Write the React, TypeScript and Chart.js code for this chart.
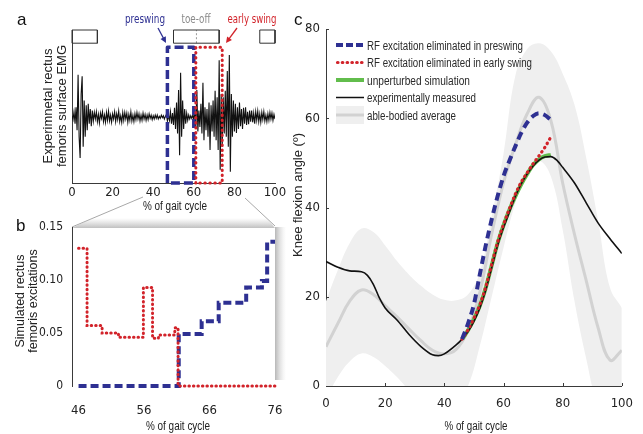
import React, { useEffect, useRef } from "react";
import { Chart, registerables } from "chart.js";
Chart.register(...registerables);

const W = 643;
const H = 434;
const NARROW = '"Liberation Sans Narrow", "DejaVu Sans Condensed", "Arial Narrow", sans-serif';
const SANS = '"Liberation Sans", Arial, sans-serif';
const BLUE = "#2e3092";
const RED = "#d2232a";
const GREEN = "#62bd4c";
const INK = "#222222";
const AXIS = "#3a3a3a";

// ---------- Panel a: experimental EMG ----------
const EMG_STEP = 0.5;
const EMG_VALUES = [
  0.02, -0.04, 0.08, -0.1, 0.15, -0.2, 0.64, -0.3, -0.62, 0.35,
  0.62, -0.45, 0.25, -0.3, 0.18, -0.2, 0.2, -0.1, 0.12, -0.14,
  0.1,
  -0.06, 0.07, -0.03, 0.08, -0.07, 0.04, -0.09, 0.06, -0.02, 0.08,
  -0.07, 0.03, -0.08, 0.07, -0.05, 0.09, -0.06, 0.03, -0.08, 0.05,
  -0.03, 0.08, -0.07, 0.05, -0.04, 0.09, -0.07, 0.02, -0.08, 0.07,
  -0.05, 0.07, -0.03, 0.06, -0.08, 0.04, -0.05, 0.08, -0.06, 0.03,
  -0.07, 0.05, -0.04, 0.07, -0.03, 0.05, -0.06, 0.03, -0.05, 0.06,
  -0.03, 0.04, -0.05, 0.03, -0.04, 0.05, -0.02, 0.03, -0.04, 0.02,
  -0.03, 0.03, -0.02, 0.03, -0.03, 0.01, -0.02, 0.03, -0.01, 0.02,
  -0.03, 0.01,
  0.04, -0.06, 0.03, -0.05, 0.08, -0.1, 0.06, -0.12, 0.14, -0.18,
  0.22, -0.25, 0.41, -0.58, 0.67, -0.3, 0.25, -0.18, 0.12, -0.1,
  0.06, -0.05, 0.03, -0.03, 0.02, -0.02, 0.03, -0.04,
  0.12, -0.18, 0.41, -0.22, 0.1, -0.15, 0.2, -0.25, 0.52, -0.35,
  0.15, -0.2, 0.12, -0.3, 0.22, -0.5, 0.18, -0.22, 0.25, -0.3,
  0.4, -0.35, 0.3, -0.5, 0.86, -0.8, 0.35, -0.45, 0.3, -0.25,
  0.4, -0.3, 0.7, -0.45, 0.94, -0.83, 0.35, -0.3, 0.25, -0.22,
  0.2, -0.24, 0.15, -0.18, 0.22, -0.14, 0.12, -0.18, 0.14, -0.1,
  0.15, -0.12, 0.08, -0.11, 0.1, -0.07, 0.1, -0.08, 0.06, -0.1,
  0.08, -0.05, 0.09, -0.07, 0.05, -0.08, 0.07, -0.04, 0.08, -0.06,
  0.03, -0.07, 0.05, -0.05, 0.07, -0.03, 0.06, -0.05, 0.04, -0.03,
];
const PRESWING = [47, 60];
const EARLY_SWING = [61, 74];
const WINDOW_Y = [-1, 1.06];
const GAIT_BARS = [
  [0, 12.5],
  [50, 72.5],
  [92.5, 100],
];
const GAIT_BAR_Y = [1.12, 1.32];
const TOE_OFF = 61.3;
const A_X_TICKS = [0, 20, 40, 60, 80, 100];

// ---------- Panel b: simulated excitations ----------
const B_RED_X = [46, 47.3, 49.6, 52.1, 55.9, 57.3, 58.2, 60.7, 61.2, 76];
const B_RED_Y = [0.13, 0.057, 0.05, 0.046, 0.093, 0.045, 0.048, 0.055, 0, 0];
const B_BLUE_X = [46, 61.3, 64.8, 67.4, 71.6, 74.0, 74.8, 76];
const B_BLUE_Y = [0, 0.049, 0.061, 0.0785, 0.093, 0.099, 0.136, 0.136];
const B_X_TICKS = [46, 56, 66, 76];
const B_Y_TICKS = [0, 0.05, 0.1, 0.15];
const B_Y_LABELS = ["0", "0.05", "0.10", "0.15"];

// ---------- Panel c: knee flexion ----------
const ABLE_X = [0, 4, 8, 12, 16, 20, 24, 28, 32, 36, 40, 44, 48, 52, 56, 60, 64, 68, 72, 76, 80, 84, 88, 92, 96, 100];
const ABLE_MEAN = [8.8, 14, 19, 21.5, 20.5, 18, 15.5, 12.8, 10.2, 8, 7.2, 8.2, 12.5, 21, 34, 45.5, 54, 61, 64.7, 59.5, 45.5, 34, 23.5, 13, 5.8, 8];
const ABLE_UPPER = [19, 26, 32, 35.3, 34.5, 31.5, 28, 25, 22.5, 20.5, 19.3, 19.2, 20.5, 25.5, 38, 52, 69.5, 75.5, 76.8, 75, 70, 63, 51, 37, 22, 17.5];
const ABLE_LOWER = [-3, 2, 5.5, 7.3, 6.5, 4.5, 2, -1, -4, -6, -6, -4, 0, 9, 20, 31, 41, 48, 50.5, 47, 35, 19, 6, -5, -10, -8];
const EXP_X = [0, 4, 8, 12, 14, 16, 18, 20, 24, 28, 32, 36, 38, 40, 44, 46, 48, 50, 52, 54, 56, 58, 60, 62, 64, 66, 68, 70, 72, 74, 76, 78, 80, 84, 88, 92, 96, 100];
const EXP_Y = [27.9, 26.6, 25.8, 25.6, 24.8, 22.8, 19.8, 17.5, 14.8, 11.6, 8.9, 7, 6.8, 7.2, 9.2, 10.5, 12.2, 14.5, 17.5, 21.5, 26.5, 31.5, 35.5, 39, 42.5, 45.3, 47.5, 49.3, 50.6, 51.3, 51.4, 50.6, 49, 45.5, 41, 36.5, 33, 29.7];
const SIM_X = [46, 48, 50, 52, 54, 56, 58, 60, 62, 64, 66, 68, 70, 72, 74, 76];
const SIM_GREEN = [10.5, 12.5, 15, 18, 22, 27, 32, 36, 39.5, 42.5, 45.2, 47.5, 49.5, 50.8, 51.5, 51.8];
const SIM_RED = [10.5, 12.6, 15.2, 18.2, 22.2, 27.2, 32.2, 36.2, 39.7, 43, 45.7, 47.8, 49.8, 51.6, 53.5, 55.8];
const SIM_BLUE = [10.5, 14, 18.3, 25, 31.5, 37.3, 42.5, 47, 50.5, 53.7, 56.7, 59, 60.5, 61.1, 60.7, 59.6];
const C_X_TICKS = [0, 20, 40, 60, 80, 100];
const C_Y_TICKS = [0, 20, 40, 60, 80];
const LEGEND_LABELS = [
  "RF excitation eliminated in preswing",
  "RF excitation eliminated in early swing",
  "unperturbed simulation",
  "experimentally measured",
  "able-bodied average",
];

// ---------- helpers ----------
const pts = (xs: number[], ys: number[]) => xs.map((x, i) => ({ x, y: ys[i] }));
const rectPts = (x0: number, x1: number, y0: number, y1: number) => [
  { x: x0, y: y0 },
  { x: x0, y: y1 },
  { x: x1, y: y1 },
  { x: x1, y: y0 },
  { x: x0, y: y0 },
];
const fixedTicks = (vals: number[]) => (s: any) => {
  s.ticks = vals.map((v) => ({ value: v }));
};

function arrow(ctx: CanvasRenderingContext2D, x1: number, y1: number, x2: number, y2: number, color: string) {
  const a = Math.atan2(y2 - y1, x2 - x1);
  const L = 6;
  const w = 3;
  ctx.strokeStyle = color;
  ctx.fillStyle = color;
  ctx.lineWidth = 1.3;
  ctx.beginPath();
  ctx.moveTo(x1, y1);
  ctx.lineTo(x2 - L * 0.8 * Math.cos(a), y2 - L * 0.8 * Math.sin(a));
  ctx.stroke();
  ctx.beginPath();
  ctx.moveTo(x2, y2);
  ctx.lineTo(x2 - L * Math.cos(a) + w * Math.sin(a), y2 - L * Math.sin(a) - w * Math.cos(a));
  ctx.lineTo(x2 - L * Math.cos(a) - w * Math.sin(a), y2 - L * Math.sin(a) + w * Math.cos(a));
  ctx.closePath();
  ctx.fill();
}

function rotText(ctx: CanvasRenderingContext2D, lines: string[], x: number, y: number, gap: number, font: string) {
  ctx.save();
  ctx.translate(x, y);
  ctx.rotate(-Math.PI / 2);
  ctx.font = font;
  ctx.fillStyle = INK;
  ctx.textAlign = "center";
  ctx.textBaseline = "middle";
  lines.forEach((t, i) => ctx.fillText(t, 0, i * gap));
  ctx.restore();
}

const tickFont = { family: NARROW, size: 13 };
const smallTickFont = { family: NARROW, size: 12 };
const baseOpts = {
  animation: false as const,
  responsive: false,
  events: [] as any[],
  plugins: { legend: { display: false }, tooltip: { enabled: false } },
};

function configA(): any {
  const emgPts = EMG_VALUES.map((v, i) => ({ x: i * EMG_STEP, y: v }));
  const bars = GAIT_BARS.map((b) => ({
    data: rectPts(b[0], b[1], GAIT_BAR_Y[0], GAIT_BAR_Y[1]),
    borderColor: "#333",
    borderWidth: 1,
    pointRadius: 0,
    clip: false,
    order: 1,
  }));
  return {
    type: "line",
    data: {
      datasets: [
        { data: emgPts, borderColor: "#111", borderWidth: 1.1, pointRadius: 0, order: 4 },
        {
          data: rectPts(PRESWING[0], PRESWING[1], WINDOW_Y[0], WINDOW_Y[1]),
          borderColor: BLUE,
          borderWidth: 3.5,
          borderDash: [9, 4],
          borderJoinStyle: "round",
          pointRadius: 0,
          clip: false,
          order: 2,
        },
        {
          data: rectPts(EARLY_SWING[0], EARLY_SWING[1], WINDOW_Y[0], WINDOW_Y[1]),
          borderColor: RED,
          borderWidth: 3,
          borderDash: [0.5, 4.5],
          borderCapStyle: "round",
          borderJoinStyle: "round",
          pointRadius: 0,
          clip: false,
          order: 1,
        },
        ...bars,
        {
          data: [
            { x: TOE_OFF, y: GAIT_BAR_Y[0] },
            { x: TOE_OFF, y: GAIT_BAR_Y[1] },
          ],
          borderColor: "#999",
          borderWidth: 1,
          borderDash: [2, 2],
          pointRadius: 0,
          clip: false,
          order: 1,
        },
      ],
    },
    options: {
      ...baseOpts,
      layout: { padding: { left: 70, right: W - 275, top: 30, bottom: H - 183 - 22 } },
      scales: {
        x: {
          type: "linear",
          min: 0,
          max: 100,
          afterBuildTicks: fixedTicks(A_X_TICKS),
          ticks: { font: tickFont, color: INK, padding: 2 },
          grid: { display: false, drawTicks: false },
          border: { color: AXIS, width: 1 },
          afterFit: (s: any) => {
            s.height = 22;
          },
        },
        y: {
          type: "linear",
          min: -1,
          max: 1.32,
          ticks: { display: false },
          grid: { display: false, drawTicks: false },
          border: { color: AXIS, width: 1 },
          afterFit: (s: any) => {
            s.width = 2;
          },
        },
      },
    },
    plugins: [
      {
        id: "aText",
        afterDraw(chart: any) {
          const ctx = chart.ctx as CanvasRenderingContext2D;
          ctx.save();
          ctx.fillStyle = "#111";
          ctx.font = `17px ${SANS}`;
          ctx.textAlign = "left";
          ctx.textBaseline = "alphabetic";
          ctx.fillText("a", 17, 25);
          ctx.font = `13px ${NARROW}`;
          ctx.textAlign = "center";
          ctx.fillStyle = BLUE;
          ctx.fillText("preswing", 145, 23, 40);
          ctx.fillStyle = "#8a8a8a";
          ctx.fillText("toe-off", 196, 23, 29);
          ctx.fillStyle = RED;
          ctx.fillText("early swing", 252, 23, 49);
          arrow(ctx, 158, 28, 166, 43, BLUE);
          arrow(ctx, 237, 28, 226, 43, RED);
          ctx.fillStyle = INK;
          ctx.font = `12px ${SANS}`;
          ctx.fillText("% of gait cycle", 175, 210, 64);
          rotText(ctx, ["Experimnetal rectus", "femoris surface EMG"], 48, 106, 14.5, `13px ${SANS}`);
          ctx.restore();
        },
      },
    ],
  };
}

function configB(): any {
  return {
    type: "line",
    data: {
      datasets: [
        {
          data: pts(B_BLUE_X, B_BLUE_Y),
          stepped: "before",
          borderColor: BLUE,
          borderWidth: 4,
          borderDash: [8, 4],
          pointRadius: 0,
          clip: false,
          order: 2,
        },
        {
          data: pts(B_RED_X, B_RED_Y),
          stepped: "before",
          borderColor: RED,
          borderWidth: 3,
          borderDash: [0.5, 4],
          borderCapStyle: "round",
          pointRadius: 0,
          clip: false,
          order: 1,
        },
      ],
    },
    options: {
      ...baseOpts,
      layout: { padding: { left: 72 - 40, right: W - 275, top: 227, bottom: H - 386 - 36 } },
      scales: {
        x: {
          type: "linear",
          min: 45,
          max: 76,
          afterBuildTicks: fixedTicks(B_X_TICKS),
          ticks: { font: tickFont, color: INK, padding: 17 },
          grid: { display: false, drawTicks: false },
          border: { display: false },
          afterFit: (s: any) => {
            s.height = 36;
          },
        },
        y: {
          type: "linear",
          min: 0,
          max: 0.15,
          afterBuildTicks: fixedTicks(B_Y_TICKS),
          ticks: {
            font: smallTickFont,
            color: INK,
            padding: 9,
            callback: (v: number) => B_Y_LABELS[B_Y_TICKS.indexOf(v)] ?? String(v),
          },
          grid: { display: false, drawTicks: false },
          border: { color: AXIS, width: 1 },
          afterFit: (s: any) => {
            s.width = 40;
          },
        },
      },
    },
    plugins: [
      {
        id: "bDeco",
        beforeDraw(chart: any) {
          const ctx = chart.ctx as CanvasRenderingContext2D;
          const { left, right, top, bottom } = chart.chartArea;
          ctx.save();
          ctx.strokeStyle = "#a8a8a8";
          ctx.lineWidth = 1;
          ctx.beginPath();
          ctx.moveTo(143, 197);
          ctx.lineTo(left, top);
          ctx.moveTo(245, 198);
          ctx.lineTo(right, top - 1);
          ctx.stroke();
          const g = ctx.createLinearGradient(0, top - 9, 0, top + 1);
          g.addColorStop(0, "rgba(200,200,200,0)");
          g.addColorStop(1, "rgba(185,185,185,0.9)");
          ctx.fillStyle = g;
          ctx.beginPath();
          ctx.moveTo(left + 20, top - 9);
          ctx.lineTo(right - 8, top - 9);
          ctx.lineTo(right, top + 1);
          ctx.lineTo(left, top + 1);
          ctx.closePath();
          ctx.fill();
          const g2 = ctx.createLinearGradient(right, 0, right + 11, 0);
          g2.addColorStop(0, "rgba(170,170,170,0.85)");
          g2.addColorStop(1, "rgba(220,220,220,0)");
          ctx.fillStyle = g2;
          ctx.fillRect(right, top, 11, bottom - top - 6);
          ctx.restore();
        },
        afterDraw(chart: any) {
          const ctx = chart.ctx as CanvasRenderingContext2D;
          ctx.save();
          ctx.fillStyle = "#111";
          ctx.font = `17px ${SANS}`;
          ctx.textAlign = "left";
          ctx.fillText("b", 16, 231);
          ctx.fillStyle = INK;
          ctx.font = `12px ${SANS}`;
          ctx.textAlign = "center";
          ctx.fillText("% of gait cycle", 178, 429.5, 64);
          rotText(ctx, ["Simulated rectus", "femoris excitations"], 21, 301, 13, `12.5px ${SANS}`);
          ctx.restore();
        },
      },
    ],
  };
}

function configC(): any {
  return {
    type: "line",
    data: {
      datasets: [
        {
          data: pts(SIM_X, SIM_BLUE),
          borderColor: BLUE,
          borderWidth: 4,
          borderDash: [8, 5],
          pointRadius: 0,
          cubicInterpolationMode: "monotone",
          order: 1,
        },
        {
          data: pts(SIM_X, SIM_RED),
          borderColor: RED,
          borderWidth: 3.2,
          borderDash: [0.5, 4.5],
          borderCapStyle: "round",
          pointRadius: 0,
          cubicInterpolationMode: "monotone",
          order: 2,
        },
        {
          data: pts(EXP_X, EXP_Y),
          borderColor: "#111",
          borderWidth: 1.6,
          pointRadius: 0,
          cubicInterpolationMode: "monotone",
          order: 3,
        },
        {
          data: pts(SIM_X, SIM_GREEN),
          borderColor: GREEN,
          borderWidth: 4,
          pointRadius: 0,
          cubicInterpolationMode: "monotone",
          order: 4,
        },
        {
          data: pts(ABLE_X, ABLE_MEAN),
          borderColor: "#d2d2d2",
          borderWidth: 3,
          pointRadius: 0,
          tension: 0.4,
          order: 5,
        },
        {
          data: pts(ABLE_X, ABLE_UPPER),
          borderWidth: 0,
          borderColor: "rgba(0,0,0,0)",
          backgroundColor: "#efefef",
          fill: "+1",
          pointRadius: 0,
          tension: 0.4,
          order: 6,
        },
        {
          data: pts(ABLE_X, ABLE_LOWER),
          borderWidth: 0,
          borderColor: "rgba(0,0,0,0)",
          pointRadius: 0,
          tension: 0.4,
          order: 7,
        },
      ],
    },
    options: {
      ...baseOpts,
      layout: { padding: { left: 326 - 40, right: W - 624, top: 29, bottom: H - 386 - 26 } },
      scales: {
        x: {
          type: "linear",
          min: 0,
          max: 100,
          afterBuildTicks: fixedTicks(C_X_TICKS),
          ticks: { font: tickFont, color: INK, padding: 10 },
          grid: { display: false, drawTicks: false },
          border: { color: AXIS, width: 1 },
          afterFit: (s: any) => {
            s.height = 26;
          },
        },
        y: {
          type: "linear",
          min: 0,
          max: 80,
          afterBuildTicks: fixedTicks(C_Y_TICKS),
          ticks: { font: tickFont, color: INK, padding: 6 },
          grid: { display: false, drawTicks: false },
          border: { color: AXIS, width: 1 },
          afterFit: (s: any) => {
            s.width = 40;
          },
        },
      },
    },
    plugins: [
      {
        id: "cDeco",
        afterDraw(chart: any) {
          const ctx = chart.ctx as CanvasRenderingContext2D;
          const xs = chart.scales.x;
          const ys = chart.scales.y;
          const { left, bottom } = chart.chartArea;
          ctx.save();
          ctx.strokeStyle = AXIS;
          ctx.lineWidth = 1;
          ctx.beginPath();
          C_X_TICKS.slice(1).forEach((v) => {
            const x = Math.round(xs.getPixelForValue(v)) + 0.5;
            ctx.moveTo(x, bottom);
            ctx.lineTo(x, bottom - 3);
          });
          C_Y_TICKS.slice(1).forEach((v) => {
            const y = Math.round(ys.getPixelForValue(v)) + 0.5;
            ctx.moveTo(left, y);
            ctx.lineTo(left + 3, y);
          });
          ctx.stroke();

          const x0 = 336;
          const x1 = 364;
          const rows = [45, 62.5, 80, 97.5, 115];
          ctx.fillStyle = "#efefef";
          ctx.fillRect(x0, 106, x1 - x0, 18);
          const strokeSample = (y: number, color: string, w: number, dash: number[], cap: CanvasLineCap) => {
            ctx.strokeStyle = color;
            ctx.lineWidth = w;
            ctx.setLineDash(dash);
            ctx.lineCap = cap;
            ctx.beginPath();
            ctx.moveTo(x0 + (cap === "round" ? 1.5 : 0), y);
            ctx.lineTo(x1, y);
            ctx.stroke();
          };
          strokeSample(rows[0], BLUE, 4, [7, 3], "butt");
          strokeSample(rows[1], RED, 3.2, [0.5, 4.3], "round");
          strokeSample(rows[2], GREEN, 4, [], "butt");
          strokeSample(rows[3], "#111", 1.5, [], "butt");
          strokeSample(rows[4], "#d2d2d2", 3, [], "butt");
          ctx.setLineDash([]);
          ctx.fillStyle = "#2a2a2a";
          ctx.font = `12px ${SANS}`;
          ctx.textAlign = "left";
          ctx.textBaseline = "alphabetic";
          const widths = [156, 165, 103, 109, 89];
          LEGEND_LABELS.forEach((t, i) => ctx.fillText(t, 367, rows[i] + 4.5, widths[i]));

          ctx.fillStyle = "#111";
          ctx.font = `17px ${SANS}`;
          ctx.fillText("c", 294, 25);
          ctx.fillStyle = INK;
          ctx.font = `12px ${SANS}`;
          ctx.textAlign = "center";
          ctx.fillText("% of gait cycle", 476, 430, 63);
          rotText(ctx, ["Knee flexion angle (º)"], 298, 195, 0, `13px ${SANS}`);
          ctx.restore();
        },
      },
    ],
  };
}

export default function App() {
  const aRef = useRef<HTMLCanvasElement>(null);
  const bRef = useRef<HTMLCanvasElement>(null);
  const cRef = useRef<HTMLCanvasElement>(null);
  useEffect(() => {
    const charts = [
      new Chart(cRef.current as HTMLCanvasElement, configC()),
      new Chart(bRef.current as HTMLCanvasElement, configB()),
      new Chart(aRef.current as HTMLCanvasElement, configA()),
    ];
    return () => charts.forEach((c) => c.destroy());
  }, []);
  const cs: React.CSSProperties = { position: "absolute", left: 0, top: 0, width: W, height: H };
  return (
    <div style={{ position: "absolute", left: 0, top: 0, width: W, height: H, background: "#fff", overflow: "hidden" }}>
      <canvas ref={cRef} width={W} height={H} style={cs} />
      <canvas ref={bRef} width={W} height={H} style={cs} />
      <canvas ref={aRef} width={W} height={H} style={cs} />
    </div>
  );
}
